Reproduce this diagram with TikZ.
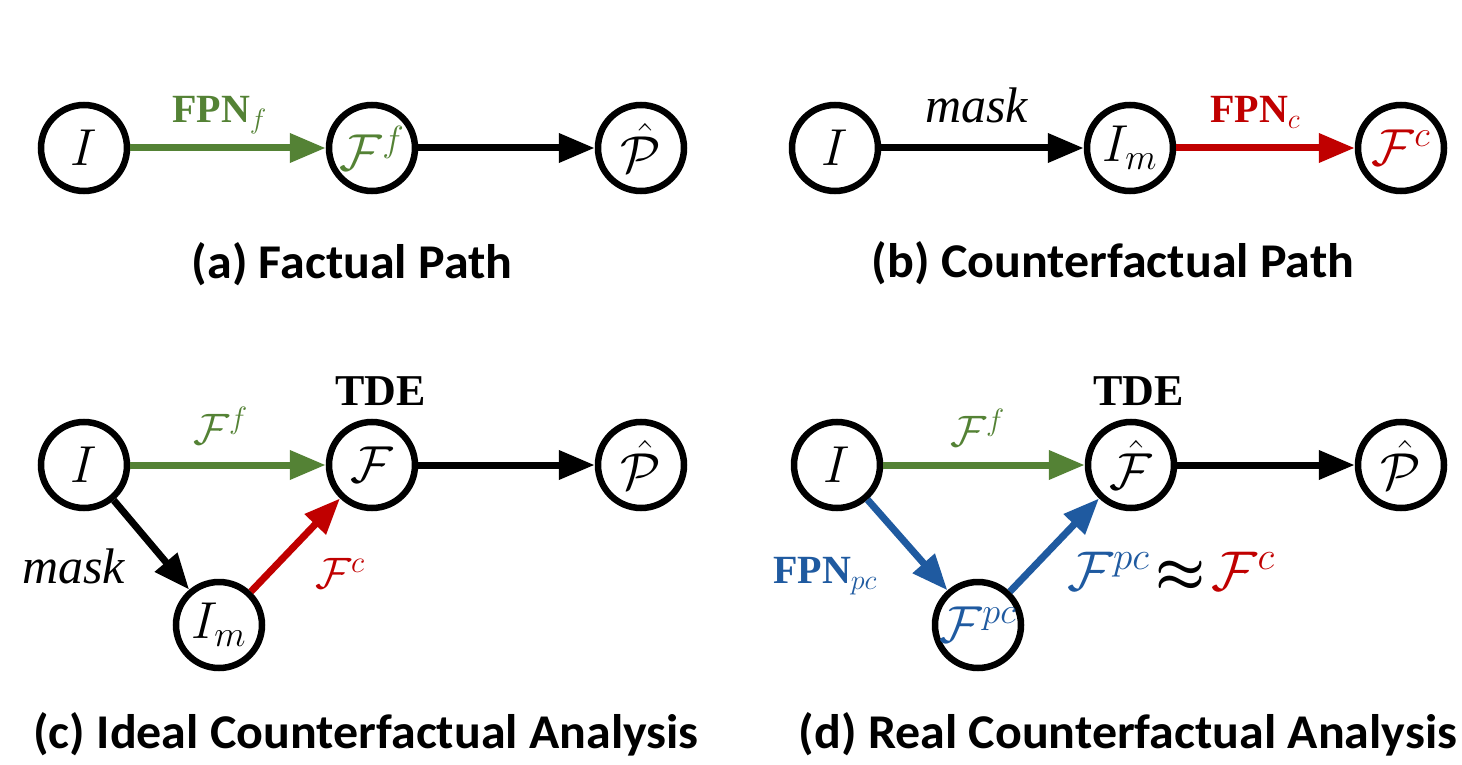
\RequirePackage{fix-cm}
\documentclass[tikz,border=0pt]{standalone}
\usepackage{amsmath}
\usepackage{fontspec}
\setmainfont{Liberation Serif}
\newfontfamily\capfont[FakeStretch=1.03]{Carlito}
\usetikzlibrary{arrows.meta}
\definecolor{fgreen}{RGB}{84,130,53}
\definecolor{fred}{RGB}{192,0,0}
\definecolor{fblue}{RGB}{31,90,160}
\begin{document}
\begin{tikzpicture}[x=1pt,y=-1pt,
  state/.style={circle,draw,line width=6.5pt,minimum size=86pt,inner sep=0pt},
  sym/.style={font=\fontsize{52}{60}\selectfont,inner sep=0pt},
  lbl/.style={font=\fontsize{44}{52}\selectfont,inner sep=0pt,anchor=base west},
  fpn/.style={lbl,font=\fontsize{40}{48}\selectfont},
  msk/.style={lbl,font=\fontsize{50}{58}\selectfont},
  capt/.style={font=\capfont\bfseries\fontsize{48.5}{56}\selectfont,inner sep=0pt,anchor=base},
  conn/.style={line width=7pt,-{Triangle[length=36pt,width=28pt]}},
]
\useasboundingbox (0,0) rectangle (1462,765);

% ---- (a) factual path
\node[state] (aI) at (84,148) {};
\node[state] (aF) at (372,148) {};
\node[state] (aP) at (641,148) {};
\node[sym] (aIt) at (aI) {$I$};
\node[sym] (aFt) at (aF) {$\color{fgreen}\mathcal{F}^f$};
\node[sym] (aPt) at (aP) {$\hat{\mathcal{P}}$};
\draw[conn,fgreen] (aI) -- (aF);
\draw[conn] (aF) -- (aP);
\node[fpn,text=fgreen] (aL) at (172,123) {\textbf{FPN}$_f$};
\node[capt] (aC) at (352,278) {(a) Factual Path};

% ---- (b) counterfactual path
\node[state] (bI) at (835,148) {};
\node[state] (bIm) at (1130,148) {};
\node[state] (bF) at (1401,148) {};
\node[sym] (bIt) at (bI) {$I$};
\node[sym] (bImt) at (bIm) {$I_m$};
\node[sym] (bFt) at (bF) {$\color{fred}\mathcal{F}^c$};
\draw[conn] (bI) -- (bIm);
\draw[conn,fred] (bIm) -- (bF);
\node[msk] (bL1) at (925,123) {\textit{mask}};
\node[fpn,text=fred] (bL2) at (1210,123) {\textbf{FPN}$_c$};
\node[capt] (bC) at (1113,277) {(b) Counterfactual Path};

% ---- (c) ideal counterfactual analysis
\node[state] (cI) at (84,465) {};
\node[state] (cF) at (372,465) {};
\node[state] (cP) at (641,465) {};
\node[state] (cIm) at (219,625) {};
\node[sym] (cIt) at (cI) {$I$};
\node[sym] (cFt) at (cF) {$\mathcal{F}$};
\node[sym] (cPt) at (cP) {$\hat{\mathcal{P}}$};
\node[sym] (cImt) at (cIm) {$I_m$};
\draw[conn,fgreen] (cI) -- (cF);
\draw[conn] (cF) -- (cP);
\draw[conn] (cI) -- (cIm);
\draw[conn,fred] (cIm) -- (cF);
\node[lbl] (cTDE) at (335,405) {\textbf{TDE}};
\node[lbl] (cL1) at (193,444) {$\color{fgreen}\mathcal{F}^f$};
\node[msk] (cL2) at (22,583) {\textit{mask}};
\node[lbl] (cL3) at (315,588) {$\color{fred}\mathcal{F}^c$};
\node[capt] (cC) at (366,748) {(c) Ideal Counterfactual Analysis};

% ---- (d) real counterfactual analysis
\node[state] (dI) at (837,465) {};
\node[state] (dF) at (1131,465) {};
\node[state] (dP) at (1401,465) {};
\node[state] (dFpc) at (978,625) {};
\node[sym] (dIt) at (dI) {$I$};
\node[sym] (dFt) at (dF) {$\hat{\mathcal{F}}$};
\node[sym] (dPt) at (dP) {$\hat{\mathcal{P}}$};
\node[sym] (dFpct) at (dFpc) {$\color{fblue}\mathcal{F}^{pc}$};
\draw[conn,fgreen] (dI) -- (dF);
\draw[conn] (dF) -- (dP);
\draw[conn,fblue] (dI) -- (dFpc);
\draw[conn,fblue] (dFpc) -- (dF);
\node[lbl] (dTDE) at (1093,405) {\textbf{TDE}};
\node[lbl] (dL1) at (950,446) {$\color{fgreen}\mathcal{F}^f$};
\node[fpn,text=fblue] (dL2) at (773,583) {\textbf{FPN}$_{pc}$};
\node[lbl,font=\fontsize{56}{62}\selectfont] (dL3) at (1067,590)
  {$\color{fblue}\mathcal{F}^{pc}\color{black}\!\boldsymbol{\approx}\!\color{fred}\mathcal{F}^c$};
\node[capt] (dC) at (1128,748) {(d) Real Counterfactual Analysis};
\end{tikzpicture}
\end{document}
